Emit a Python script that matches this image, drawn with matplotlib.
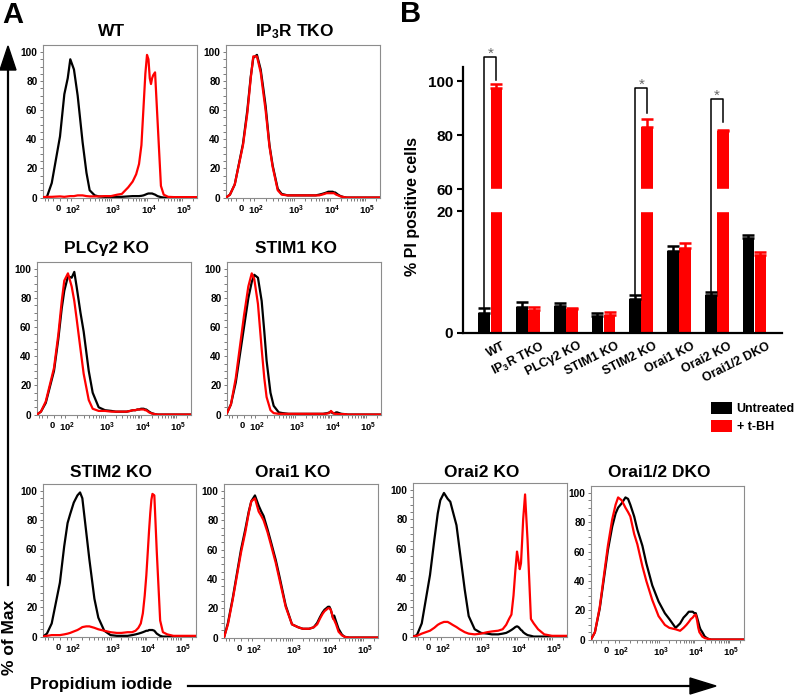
import numpy as np
import matplotlib
matplotlib.use('Agg')
import matplotlib.pyplot as plt
from matplotlib.patches import Patch, Polygon
from matplotlib.lines import Line2D
from matplotlib.transforms import ScaledTranslation

plt.rcParams['font.family'] = ['Liberation Sans', 'DejaVu Sans']
plt.rcParams['font.weight'] = 'bold'
plt.rcParams['mathtext.fontset'] = 'custom'
plt.rcParams['mathtext.rm'] = 'Liberation Sans:bold'
plt.rcParams['mathtext.bf'] = 'Liberation Sans:bold'
plt.rcParams['mathtext.it'] = 'Liberation Sans:bold'
plt.rcParams['mathtext.default'] = 'bf'

# ---------------- data: panel A (flow histograms, % of max) ----------------
pi_grid = [-200, -120, -60, 0, 30, 60, 90, 120, 150, 175, 200, 250, 300, 400, 500, 700,
           1000, 1500, 2000, 3000, 4000, 5000, 6000, 7000, 8000, 9000, 10000, 11000,
           12000, 13000, 14000, 15000, 17000, 20000, 25000, 30000, 40000, 60000, 100000, 262144]

wt_untreated = [0, 0.5, 10, 42, 71, 82, 95, 88, 70, 53, 38, 17, 5, 1.5, 0.8, 0.5,
                0.5, 0.5, 0.5, 0.8, 1, 1, 1, 1.2, 1.5, 2, 2.5, 2.8,
                2.8, 2.8, 2.8, 2.5, 2, 1, 0.3, 0, 0, 0, 0, 0]
wt_tbh = [0.3, 0.5, 0.5, 0.8, 0.5, 0.8, 1, 1, 1.5, 1.5, 1.5, 1, 0.8, 0.8, 0.8, 1,
          1, 2, 2.5, 7, 11, 16, 23, 36, 62, 85, 98, 95,
          82, 78, 82, 84, 86, 53, 8, 2, 0.5, 0.3, 0.3, 0.3]

ip3r_untreated = [0, 2, 9, 37, 60, 83, 96, 98, 88, 75, 63, 36, 22, 6, 2.5, 1.5,
                  1.5, 1.5, 1.5, 1.5, 1.5, 2, 2.5, 3, 3.5, 4, 4, 4,
                  4, 3.5, 3.5, 3, 2, 1, 0.3, 0, 0, 0, 0, 0]
ip3r_tbh = [0, 2, 9, 36, 58, 82, 97, 97, 86, 72, 60, 35, 21, 5, 2, 1.5,
            1.5, 1.5, 1.5, 1.5, 1.5, 1.5, 2, 2.5, 3, 3, 3, 3,
            3, 3, 2.5, 2, 1.5, 0.8, 0.3, 0, 0, 0, 0, 0]

plc_untreated = [0, 2, 8, 30, 52, 73, 85, 95, 94, 98, 88, 70, 57, 30, 15, 5,
                 3, 2.5, 2, 2, 2, 2.5, 3, 3, 3.5, 3.5, 4, 4,
                 4, 3.5, 3.5, 3, 2, 1, 0.3, 0, 0, 0, 0, 0]
plc_tbh = [0, 2, 9, 32, 55, 78, 92, 97, 88, 78, 66, 45, 28, 10, 4, 2.5,
           2.5, 2, 2, 2, 2, 2.5, 3, 3, 3.5, 3.5, 3.5, 3.5,
           3.5, 3, 3, 2.5, 1.5, 0.8, 0.3, 0, 0, 0, 0, 0]

stim1_untreated = [1, 7, 22, 60, 80, 91, 96, 94, 78, 57, 37, 15, 6, 1.5, 1, 0.5,
                   0.5, 0.5, 0.5, 0.5, 0.5, 0.5, 0.5, 0.8, 1, 1.5, 2, 1,
                   0.8, 1, 1.5, 1.5, 1, 0.5, 0.3, 0, 0, 0, 0, 0]
stim1_tbh = [1, 7, 25, 68, 88, 97, 93, 76, 45, 25, 12, 3, 1, 0.5, 0.5, 0.5,
             0.5, 0.5, 0.5, 0.5, 0.5, 0.5, 0.5, 0.5, 0.8, 1, 2.5, 1.5,
             0.8, 0.5, 0.5, 0.5, 0.3, 0.3, 0.3, 0, 0, 0, 0, 0]

stim2_untreated = [0, 2, 9, 37, 62, 78, 84, 92, 97, 99, 95, 72, 53, 26, 13, 4,
                   1, 0.5, 0.5, 0.5, 1, 1.5, 2, 2.5, 3, 3.5, 4, 4,
                   4.5, 4.5, 4.5, 4.5, 4, 2, 0.5, 0, 0, 0, 0, 0]
stim2_tbh = [0, 0.5, 1, 1, 1.5, 2, 2.5, 3.5, 4.5, 5.5, 6.5, 7, 7, 6, 5, 4,
             3, 2.5, 2.5, 3, 3, 4, 6, 9, 16, 28, 42, 58,
             73, 85, 94, 98, 97, 58, 11, 3, 1.5, 0.5, 0.5, 0.5]

orai1_untreated = [0, 10, 27, 60, 74, 86, 93, 97, 90, 86, 83, 74, 66, 53, 41, 22,
                   9, 7, 6, 6, 7, 10, 14, 17, 19, 20, 21, 21,
                   19, 16, 13, 15, 11, 6, 2, 0.5, 0, 0, 0, 0]
orai1_tbh = [0, 9, 26, 58, 72, 85, 93, 95, 86, 83, 80, 72, 64, 51, 39, 21,
             9, 7, 6, 6, 7, 9, 13, 16, 18, 19, 20, 20,
             19, 16, 13, 12, 9, 4, 1.5, 0.5, 0, 0, 0, 0]

orai2_untreated = [0, 1, 9, 42, 66, 84, 93, 98, 94, 92, 86, 76, 59, 32, 14, 5,
                   2.5, 2, 1.5, 1.5, 2, 2.5, 3.5, 4.5, 5.5, 6.5, 7, 6.5,
                   5.5, 4.5, 4, 3, 2, 1, 0.5, 0, 0, 0, 0, 0]
orai2_tbh = [0, 0.5, 2, 4, 6, 8, 9, 10, 10, 9, 8, 6.5, 5, 3, 2, 1.5,
             2, 3, 3.5, 4, 5, 8, 12, 15, 28, 45, 58, 52,
             46, 50, 65, 80, 97, 66, 12, 9, 5, 1.5, 0.5, 0.5]

dko_untreated = [0, 5, 21, 61, 77, 86, 90, 93, 97, 96, 92, 84, 75, 64, 52, 37,
                 26, 18, 14, 8, 11, 15, 17, 19, 19, 19, 18, 18,
                 15, 12, 9, 7, 5, 2, 0.5, 0, 0, 0, 0, 0]
dko_tbh = [0, 5, 22, 64, 82, 92, 97, 95, 90, 87, 84, 72, 65, 50, 40, 27,
           16, 10, 8, 7, 6, 8, 10, 12, 14, 15, 16.5, 17,
           13, 8, 5, 4, 2, 1, 0.5, 0, 0, 0, 0, 0]

hist_titles = ['WT', 'IP$_3$R TKO', 'PLCγ2 KO', 'STIM1 KO',
               'STIM2 KO', 'Orai1 KO', 'Orai2 KO', 'Orai1/2 DKO']
hist_untreated = [wt_untreated, ip3r_untreated, plc_untreated, stim1_untreated,
                  stim2_untreated, orai1_untreated, orai2_untreated, dko_untreated]
hist_tbh = [wt_tbh, ip3r_tbh, plc_tbh, stim1_tbh,
            stim2_tbh, orai1_tbh, orai2_tbh, dko_tbh]
pi_tick_values = [0, 100, 1000, 10000, 100000]
pi_tick_labels = ['0', '10$^2$', '10$^3$', '10$^4$', '10$^5$']
pct_ticks = [0, 20, 40, 60, 80, 100]

# ---------------- data: panel B (bar chart) ----------------
bar_groups = ['WT', 'IP$_3$R TKO', 'PLCγ2 KO', 'STIM1 KO',
              'STIM2 KO', 'Orai1 KO', 'Orai2 KO', 'Orai1/2 DKO']
untreated_mean = [3.3, 4.3, 4.4, 2.8, 5.5, 13.5, 6.3, 15.5]
untreated_err = [0.8, 0.8, 0.5, 0.4, 0.7, 0.8, 0.5, 0.6]
tbh_mean = [97.4, 3.8, 3.9, 2.95, 83.1, 14.0, 81.6, 12.8]
tbh_err = [1.6, 0.5, 0.15, 0.55, 2.9, 0.8, 0.3, 0.5]
sig_groups = [0, 4, 6]
sig_top = [108.9, 97.4, 93.2]
sig_red_end = [100.4, 88.3, 85.0]
bar_ticks = [0, 20, 60, 80, 100]
legend_labels = ['Untreated', '+ t-BH']

# ---------------- figure ----------------
W, H = 800, 695
fig = plt.figure(figsize=(W / 100, H / 100), dpi=100)


def px_axes(l, t, r, b):
    return fig.add_axes([l / W, 1 - b / H, (r - l) / W, (b - t) / H])


def fx(x):
    return x / W


def fy(y):
    return 1 - y / H


# biexponential-like display scale for PI axis
_kx = np.array([-1000, -200, 0, 100, 1000, 10000, 100000, 262144, 1e6])
_kp = np.array([-12.9, 0, 17, 28, 68, 104, 139, 154, 174])
_ka = np.arcsinh(_kx / 50.0)


def pi_fwd(x):
    return np.interp(np.arcsinh(np.asarray(x, float) / 50.0), _ka, _kp)


def pi_inv(p):
    return 50.0 * np.sinh(np.interp(np.asarray(p, float), _kp, _ka))


hist_boxes = [(43, 45, 197, 198), (226, 45, 380, 198),
              (37, 262, 191, 415), (227, 262, 381, 415),
              (43, 484, 196, 637), (224, 484, 378, 638),
              (413, 483, 567, 637), (591, 486, 744, 640)]
title_baselines = [36, 36, 253, 253, 477, 477, 477, 477]

minor_x = [-150, -100, -50, 50] + [k * 10 ** e for e in (2, 3, 4) for k in range(2, 10)] + [200000]
label_dx = [-2, 2.5, 2, 2, 2]  # small pixel nudges of the PI tick labels

for i in range(8):
    l, t, r, b = hist_boxes[i]
    ax = px_axes(l, t, r, b)
    ax.set_xscale('function', functions=(pi_fwd, pi_inv))
    ax.plot(pi_grid, hist_untreated[i], color='black', lw=1.6, zorder=3)
    ax.plot(pi_grid, hist_tbh[i], color='#ff0000', lw=1.6, zorder=4)
    ax.set_xlim(-200, 262144)
    ax.set_ylim(-0.3, 104.8)
    ax.set_xticks(pi_tick_values)
    ax.set_xticklabels(pi_tick_labels)
    ax.set_xticks(minor_x, minor=True)
    ax.set_yticks(pct_ticks)
    ax.set_yticks(np.arange(0, 101, 5), minor=True)
    ax.tick_params(which='both', direction='out', color='#666666', width=0.6)
    ax.tick_params(which='major', length=2.5, pad=1.5)
    ax.tick_params(axis='y', which='major', labelsize=7.3)
    ax.tick_params(axis='x', which='major', labelsize=6.8)
    for lab, dx in zip(ax.get_xticklabels(), label_dx):
        lab.set_transform(lab.get_transform() + ScaledTranslation(dx / 100, 0, fig.dpi_scale_trans))
        lab.set_fontweight('bold')
    for lab in ax.get_yticklabels():
        lab.set_fontweight('bold')
    for s in ax.spines.values():
        s.set_color('#8c8c8c')
        s.set_linewidth(0.8)
    fig.text(fx((l + r) / 2 - 8), fy(title_baselines[i]), hist_titles[i],
             ha='center', va='baseline', fontsize=12.5, fontweight='bold')

# ---------------- panel B ----------------
bk_v = [-10, 0, 20, 60, 140]
bk_p = [-61, 0, 122, 144, 360]


def b_fwd(v):
    return np.interp(np.asarray(v, float), bk_v, bk_p)


def b_inv(p):
    return np.interp(np.asarray(p, float), bk_p, bk_v)


axb = px_axes(463, 67, 782, 333)
axb.set_yscale('function', functions=(b_fwd, b_inv))
xg = np.arange(len(bar_groups))
w = 0.31
off = 0.16
axb.bar(xg - off, untreated_mean, width=w, color='black', zorder=2)
axb.bar(xg + off, tbh_mean, width=w, color='#ff0000', zorder=2)
axb.errorbar(xg - off, untreated_mean, yerr=[np.zeros(8), untreated_err], fmt='none',
             ecolor='black', elinewidth=1.8, capsize=4.0, capthick=1.8, zorder=2.1)
axb.errorbar(xg + off, tbh_mean, yerr=[np.zeros(8), tbh_err], fmt='none',
             ecolor='#ff0000', elinewidth=1.8, capsize=4.0, capthick=1.8, zorder=2.1)
axb.axhspan(bar_ticks[1], bar_ticks[2], color='white', zorder=2.2)
for gi, top, end in zip(sig_groups, sig_top, sig_red_end):
    yb = untreated_mean[gi] + untreated_err[gi]
    axb.plot([gi - off, gi - off, gi + off, gi + off], [yb, top, top, end],
             color='black', lw=1.1, clip_on=False, zorder=3)
    axb.annotate('*', xy=(gi, top), xytext=(0, 2.5), textcoords='offset points',
                 ha='center', va='center', color='#666666', fontsize=11,
                 fontweight='normal', annotation_clip=False)
axb.set_xlim(-0.724, 7.73)
axb.set_ylim(0, 105.2)
axb.set_yticks(bar_ticks)
axb.set_yticklabels([str(v) for v in bar_ticks])
axb.set_xticks(xg)
axb.set_xticklabels(bar_groups, rotation=27, ha='right', rotation_mode='anchor')
axb.tick_params(axis='y', length=4, width=1.5, labelsize=11, pad=3)
axb.tick_params(axis='x', length=0, labelsize=9, pad=5)
shift = ScaledTranslation(12 / 100, 0, fig.dpi_scale_trans)
for lab in axb.get_xticklabels():
    lab.set_transform(lab.get_transform() + shift)
    lab.set_fontweight('bold')
for lab in axb.get_yticklabels():
    lab.set_fontweight('bold')
axb.spines['top'].set_visible(False)
axb.spines['right'].set_visible(False)
axb.spines['left'].set_linewidth(1.6)
axb.spines['bottom'].set_linewidth(1.6)
fig.text(fx(412), fy(207), '% PI positive cells', rotation=90, ha='center', va='center',
         fontsize=11.5, fontweight='bold')

fig.legend(handles=[Patch(facecolor='black'), Patch(facecolor='#ff0000')],
           labels=legend_labels, loc='upper left', bbox_to_anchor=(fx(711), fy(402)),
           frameon=False, handlelength=1.7, handleheight=1.15,
           handletextpad=0.35, labelspacing=0.35, borderpad=0, borderaxespad=0,
           prop={'weight': 'bold', 'size': 9})

# ---------------- annotations: panel letters, axis arrows ----------------
fig.text(fx(2), fy(15), 'A', ha='left', va='center', fontsize=21, fontweight='bold')
fig.text(fx(400), fy(14), 'B', ha='left', va='center', fontsize=21, fontweight='bold')

fig.add_artist(Line2D([fx(8), fx(8)], [fy(585), fy(68)], color='black', lw=1.6))
fig.add_artist(Polygon([[fx(0), fy(70)], [fx(16), fy(70)], [fx(8), fy(46)]],
                       closed=True, color='black', transform=fig.transFigure))
fig.text(fx(10), fy(637), '% of Max', rotation=90, ha='center', va='center',
         fontsize=12.5, fontweight='bold')

fig.add_artist(Line2D([fx(188), fx(692)], [fy(686), fy(686)], color='black', lw=1.6))
fig.add_artist(Polygon([[fx(690), fy(678)], [fx(690), fy(694)], [fx(716), fy(686)]],
                       closed=True, color='black', transform=fig.transFigure))
fig.text(fx(30), fy(685), 'Propidium iodide', ha='left', va='center',
         fontsize=12.5, fontweight='bold')

fig.savefig('out.png', dpi=100)
